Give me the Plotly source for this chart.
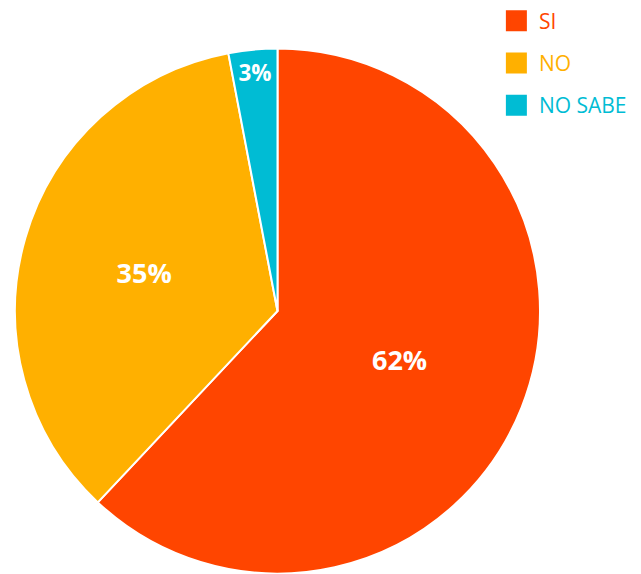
import plotly.graph_objects as go

labels = ["SI", "NO", "NO SABE"]
values = [62, 35, 3]
colors = ["#FF4500", "#FFB000", "#00BCD4"]

W, H = 641, 574

fig = go.Figure()
fig.add_trace(go.Pie(
    labels=labels,
    values=values,
    sort=False,
    direction="clockwise",
    rotation=0,
    marker=dict(colors=colors, line=dict(color="white", width=2)),
    textinfo="percent",
    texttemplate="%{percent:.0%}",
    textposition="inside",
    insidetextorientation="horizontal",
    textfont=dict(family="Open Sans", size=27, color="white", weight="bold"),
    showlegend=False,
    domain=dict(x=[7 / W, 532 / W], y=[8.5 / H, 533.5 / H]),
    hoverinfo="label+percent",
))

# legend entries (square swatches with coloured text)
for lab, col in zip(labels, colors):
    fig.add_trace(go.Scatter(
        x=[None], y=[None], mode="markers",
        marker=dict(symbol="square", size=16, color=col, line=dict(color=col, width=5)),
        name=f"<span style='color:{col}'>{lab}</span>",
        legendgroup=lab,
        showlegend=True,
    ))

fig.update_layout(
    width=W, height=H,
    margin=dict(l=0, r=0, t=0, b=0, autoexpand=False),
    paper_bgcolor="white",
    plot_bgcolor="white",
    xaxis=dict(visible=False),
    yaxis=dict(visible=False),
    showlegend=True,
    legend=dict(
        x=0.758, y=1.013, xanchor="left", yanchor="top",
        font=dict(family="Open Sans", size=21),
        tracegroupgap=12,
        itemwidth=35,
        bgcolor="rgba(0,0,0,0)",
    ),
)

fig.write_html("out.html")
